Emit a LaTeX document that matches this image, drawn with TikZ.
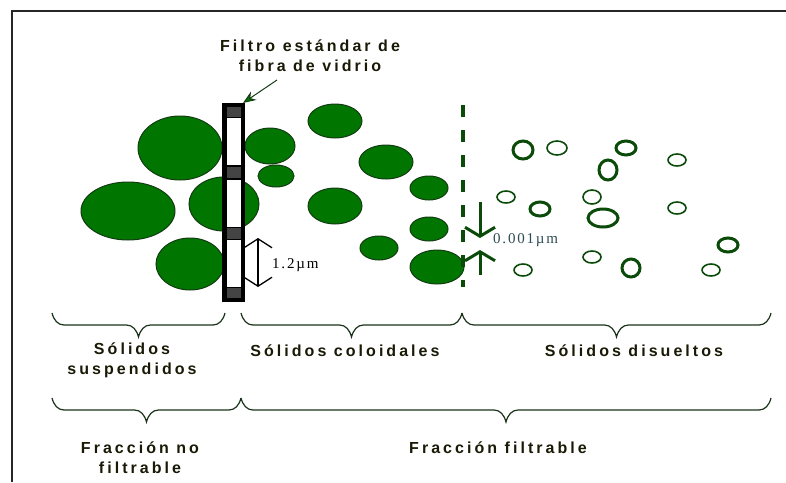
\documentclass[tikz,border=0pt]{standalone}
\usepackage{fontspec}
\usetikzlibrary{arrows, arrows.meta, decorations.pathreplacing}
\newfontfamily\lblfont[LetterSpace=19]{Liberation Sans}
\newfontfamily\dimfont[LetterSpace=12]{Liberation Serif}
\definecolor{partgreen}{RGB}{0,117,0}
\definecolor{partline}{RGB}{20,60,20}
\definecolor{ringgreen}{RGB}{10,75,10}
\definecolor{txtdark}{RGB}{25,25,5}
\definecolor{bracecol}{RGB}{25,50,25}
\definecolor{dimteal}{RGB}{45,75,85}
\definecolor{fgray}{RGB}{68,68,68}

\begin{document}
\begin{tikzpicture}[x=1pt,y=-1pt,>={Stealth[length=13pt,width=10pt,fill=partgreen]},
 label text/.style={font=\lblfont\bfseries\fontsize{16}{20}\selectfont,text=txtdark,align=center,inner sep=0pt},
 dim text/.style={font=\dimfont\fontsize{15}{16}\selectfont,inner sep=0pt,anchor=west},
 solid part/.style={fill=partgreen,draw=partline,line width=1pt},
 ring part/.style={draw=ringgreen,fill=white,line width=#1},
 dim arrow/.style={arrows={Straight Barb[length=9pt,width=28pt]-Straight Barb[length=9pt,width=28pt]}},
 gap arrow/.style={-{Straight Barb[length=9pt,width=30pt]},draw=ringgreen,line width=3pt},
 fbrace/.style={draw=bracecol,line width=1.2pt,decorate,decoration={brace,amplitude=12pt,transform={yscale=-2}}}]
\useasboundingbox (0,0) rectangle (786,482);
\draw[line width=2.4pt,draw=black!85] (12,482) -- (12,11) -- (786,11);

 \foreach \x/\y/\a/\b in {180/148/42/32, 128/211/47/29, 224/204/35/27, 190/264/34/26,
   270/146/25/18, 276/176/18/11, 335/121/27/17, 386/162/27/17, 335/206/27/18,
   379/248/19/12, 429/188/19/12, 429/229/19/12, 437/267/27/17}{
     \draw[solid part] (\x,\y) ellipse [x radius=\a pt, y radius=\b pt];}

 \foreach \x/\y/\a/\b/\w in {523/150/10/9/3pt, 557/148/10/7/1.6pt, 626/148/10/7/3pt,
   608/170/9/10/3pt, 677/160/9/6/1.6pt, 506/197/9/6/1.6pt, 540/209/10/7/3pt,
   592/197/9/7/1.6pt, 603/218/15/9/3pt, 677/208/9/6/1.6pt, 728/245/10/7/3pt,
   523/270/9/6/1.6pt, 592/257/9/6/1.6pt, 631/268/9/9/3pt, 711/270/9/6/1.6pt}{
     \draw[ring part=\w] (\x,\y) ellipse [x radius=\a pt, y radius=\b pt];}

\fill[black] (222,103) rectangle (245,302);
 \foreach \t/\b in {107/117, 167/178, 228/239, 288/298}{
     \fill[fgray] (227,\t) rectangle (241,\b);}
 \foreach \t/\b in {118/165, 180/227, 240/287}{
     \fill[white] (227,\t) rectangle (241,\b);}

\node[label text] (filtro) at (310,56) {Filtro estándar de\\fibra de vidrio};
\coordinate (fstart) at (277,80);
\coordinate (ftop) at (243,103);
\draw[->,draw=partline,line width=1pt] (fstart) -- (ftop);

\coordinate (poretop) at (258,238);
\coordinate (porebot) at (258,287);
\draw[dim arrow,line width=1.3pt] (poretop) -- (porebot);
\node[dim text,text=black] (poresize) at (272,265) {1.2µm};

\coordinate (dashtop) at (463,105);
\coordinate (dashbot) at (463,287);
\draw[draw=ringgreen,line width=4.5pt,dash pattern=on 12pt off 13pt] (dashtop) -- (dashbot);

\coordinate (gapa) at (480,202);
\coordinate (gapb) at (480,238);
\coordinate (gapc) at (480,275);
\coordinate (gapd) at (480,250);
\draw[gap arrow] (gapa) -- (gapb);
\draw[gap arrow] (gapc) -- (gapd);
\node[dim text,text=dimteal] (gapsize) at (493,240) {0.001µm};

\coordinate (s1) at (52,313);
\coordinate (s2) at (225,313);
\coordinate (s3) at (241,313);
\coordinate (s4) at (462,313);
\coordinate (s5) at (771,313);
\coordinate (f1) at (52,398);
\coordinate (f2) at (241,398);
\coordinate (f3) at (771,398);
\path[fbrace] (s1) -- (s2);
\path[fbrace] (s3) -- (s4);
\path[fbrace] (s4) -- (s5);
\path[fbrace] (f1) -- (f2);
\path[fbrace] (f2) -- (f3);

\node[label text] (susp) at (132,360) {Sólidos\\suspendidos};
\node[label text] (coloid) at (345,351) {Sólidos coloidales};
\node[label text] (disuel) at (634,351) {Sólidos disueltos};
\node[label text] (nofilt) at (140,458) {Fracción no\\filtrable};
\node[label text] (filt) at (498,448) {Fracción filtrable};
\end{tikzpicture}
\end{document}
